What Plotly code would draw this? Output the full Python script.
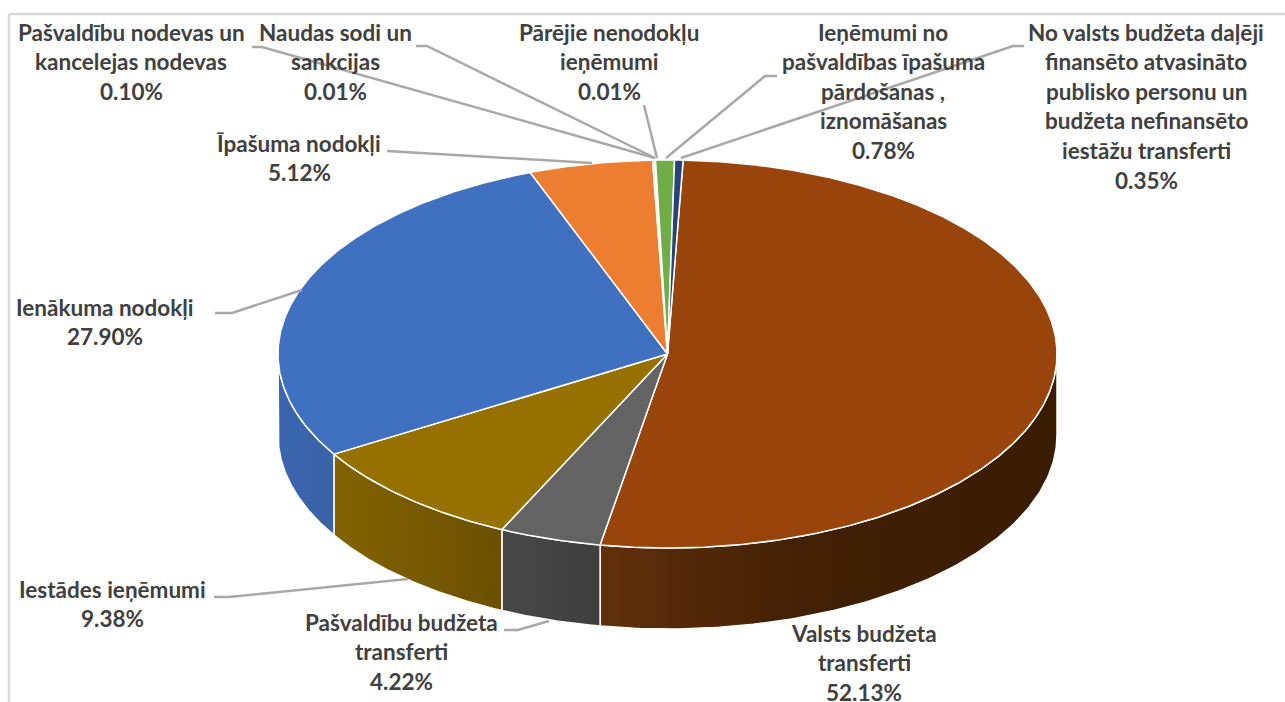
import numpy as np
import plotly.graph_objects as go

# ---------- data ----------
categories = [
    "Valsts budžeta transferti",
    "Pašvaldību budžeta transferti",
    "Iestādes ieņēmumi",
    "Ienākuma nodokļi",
    "Īpašuma nodokļi",
    "Pašvaldību nodevas un kancelejas nodevas",
    "Naudas sodi un sankcijas",
    "Pārējie nenodokļu ieņēmumi",
    "Ieņēmumi no pašvaldības īpašuma pārdošanas , iznomāšanas",
    "No valsts budžeta daļēji finansēto atvasināto publisko personu un budžeta nefinansēto iestāžu transferti",
]
values = [52.13, 4.22, 9.38, 27.90, 5.12, 0.10, 0.01, 0.01, 0.78, 0.35]

# ---------- wrapped label text ----------
label_lines = [
    ["Valsts budžeta", "transferti"],
    ["Pašvaldību budžeta", "transferti"],
    ["Iestādes ieņēmumi"],
    ["Ienākuma nodokļi"],
    ["Īpašuma nodokļi"],
    ["Pašvaldību nodevas un", "kancelejas nodevas"],
    ["Naudas sodi un", "sankcijas"],
    ["Pārējie nenodokļu", "ieņēmumi"],
    ["Ieņēmumi no", "pašvaldības īpašuma", "pārdošanas ,", "iznomāšanas"],
    ["No valsts budžeta daļēji", "finansēto atvasināto", "publisko personu un",
     "budžeta nefinansēto", "iestāžu transferti"],
]

# ---------- layout / style ----------
W, H = 1285, 702
CX, CY, RX, RY, DEPTH = 667.5, 354.0, 389.5, 194.0, 81.0
START_DEG = 2.3
top_colors = ["#99440B", "#636363", "#977100", "#4070C0", "#ED7D31",
              "#F4F1EE", "#FFC000", "#5B9BD5", "#70AD47", "#264478"]
side_scales = [
    [[0, "#62300B"], [0.2, "#532808"], [0.45, "#412005"], [1, "#3A1C03"]],
    [[0, "#474747"], [1, "#3F3F3F"]],
    [[0, "#846200"], [1, "#6A5000"]],
    [[0, "#3A66B0"], [1, "#3A62A6"]],
    [[0, "#B05C20"], [1, "#B05C20"]],
    [[0, "#CCCCCC"], [1, "#CCCCCC"]],
    [[0, "#BF9000"], [1, "#BF9000"]],
    [[0, "#4477A0"], [1, "#4477A0"]],
    [[0, "#548235"], [1, "#548235"]],
    [[0, "#1C3359"], [1, "#1C3359"]],
]
label_centers = [
    (864, 633), (401, 622), (112, 589), (105, 307), (299, 143),
    (131, 32), (335, 32), (609, 32), (883, 32), (1146, 32),
]
LINE_STEP = 29.6
leaders = [
    ([252, 262, 655], [47, 47, 158]),
    ([416, 427, 655], [46, 46, 158]),
    ([644, 657], [105, 158]),
    ([777, 765, 666], [76, 76, 158]),
    ([1024, 1013, 681], [46, 46, 158]),
    ([387, 592], [151, 163]),
    ([215, 232, 302], [313, 313, 290]),
    ([214, 229, 408], [597, 597, 579]),
    ([504, 518, 549], [630, 630, 621]),
]
TEXT = "#404040"

fig = go.Figure()

# ---------- slice angles from the values ----------
total = sum(values)
edges = START_DEG + np.cumsum([0] + values) * 360.0 / total


def ell(t_deg, dy=0.0):
    t = np.radians(t_deg)
    return CX + RX * np.sin(t), CY - RY * np.cos(t) + dy


# side walls (visible front half only)
for i in range(len(values)):
    a, b = max(edges[i], 90.0), min(edges[i + 1], 270.0)
    if b <= a:
        continue
    t = np.linspace(a, b, 120)
    x1, y1 = ell(t)
    x2, y2 = ell(t[::-1], DEPTH)
    fig.add_trace(go.Scatter(
        x=np.r_[x1, x2, x1[0]], y=np.r_[y1, y2, y1[0]],
        mode="lines", fill="toself",
        fillgradient=dict(type="horizontal", colorscale=side_scales[i]),
        line=dict(color="white", width=1.5),
        hoverinfo="skip", showlegend=False))

# top face
for i, v in enumerate(values):
    t = np.linspace(edges[i], edges[i + 1], max(3, int(v * 8)))
    x, y = ell(t)
    fig.add_trace(go.Scatter(
        x=np.r_[CX, x, CX], y=np.r_[CY, y, CY],
        mode="lines", fill="toself", fillcolor=top_colors[i],
        line=dict(color="white", width=1.5),
        name=categories[i], text=f"{categories[i]}: {v:.2f}%", hoverinfo="text",
        showlegend=False))

# leader lines
for lx, ly in leaders:
    fig.add_trace(go.Scatter(x=lx, y=ly, mode="lines",
                             line=dict(color="#A8A8A8", width=2.5),
                             hoverinfo="skip", showlegend=False))

# labels
annotations = []
for lines, v, (cx, cy) in zip(label_lines, values, label_centers):
    for k, s in enumerate(lines + [f"{v:.2f}%"]):
        annotations.append(dict(
            x=cx, y=cy + k * LINE_STEP, xref="x", yref="y", text=s, showarrow=False,
            xanchor="center", yanchor="middle",
            font=dict(family="Lato", size=22.5, color=TEXT, weight=700)))

# picture frame
shapes = [
    dict(type="line", xref="x", yref="y", x0=9, x1=W, y0=14, y1=14,
         line=dict(color="#DADADA", width=2.5)),
    dict(type="line", xref="x", yref="y", x0=9, x1=9, y0=14, y1=H,
         line=dict(color="#DADADA", width=2.5)),
]

fig.update_layout(
    width=W, height=H, margin=dict(l=0, r=0, t=0, b=0),
    paper_bgcolor="white", plot_bgcolor="white",
    xaxis=dict(range=[0, W], visible=False, fixedrange=True),
    yaxis=dict(range=[H, 0], visible=False, fixedrange=True),
    annotations=annotations, shapes=shapes,
)
fig.write_html(
    "out.html", config={"displayModeBar": False},
    post_script="document.body.style.margin='0';"
                "document.documentElement.style.overflow='hidden';",
)
